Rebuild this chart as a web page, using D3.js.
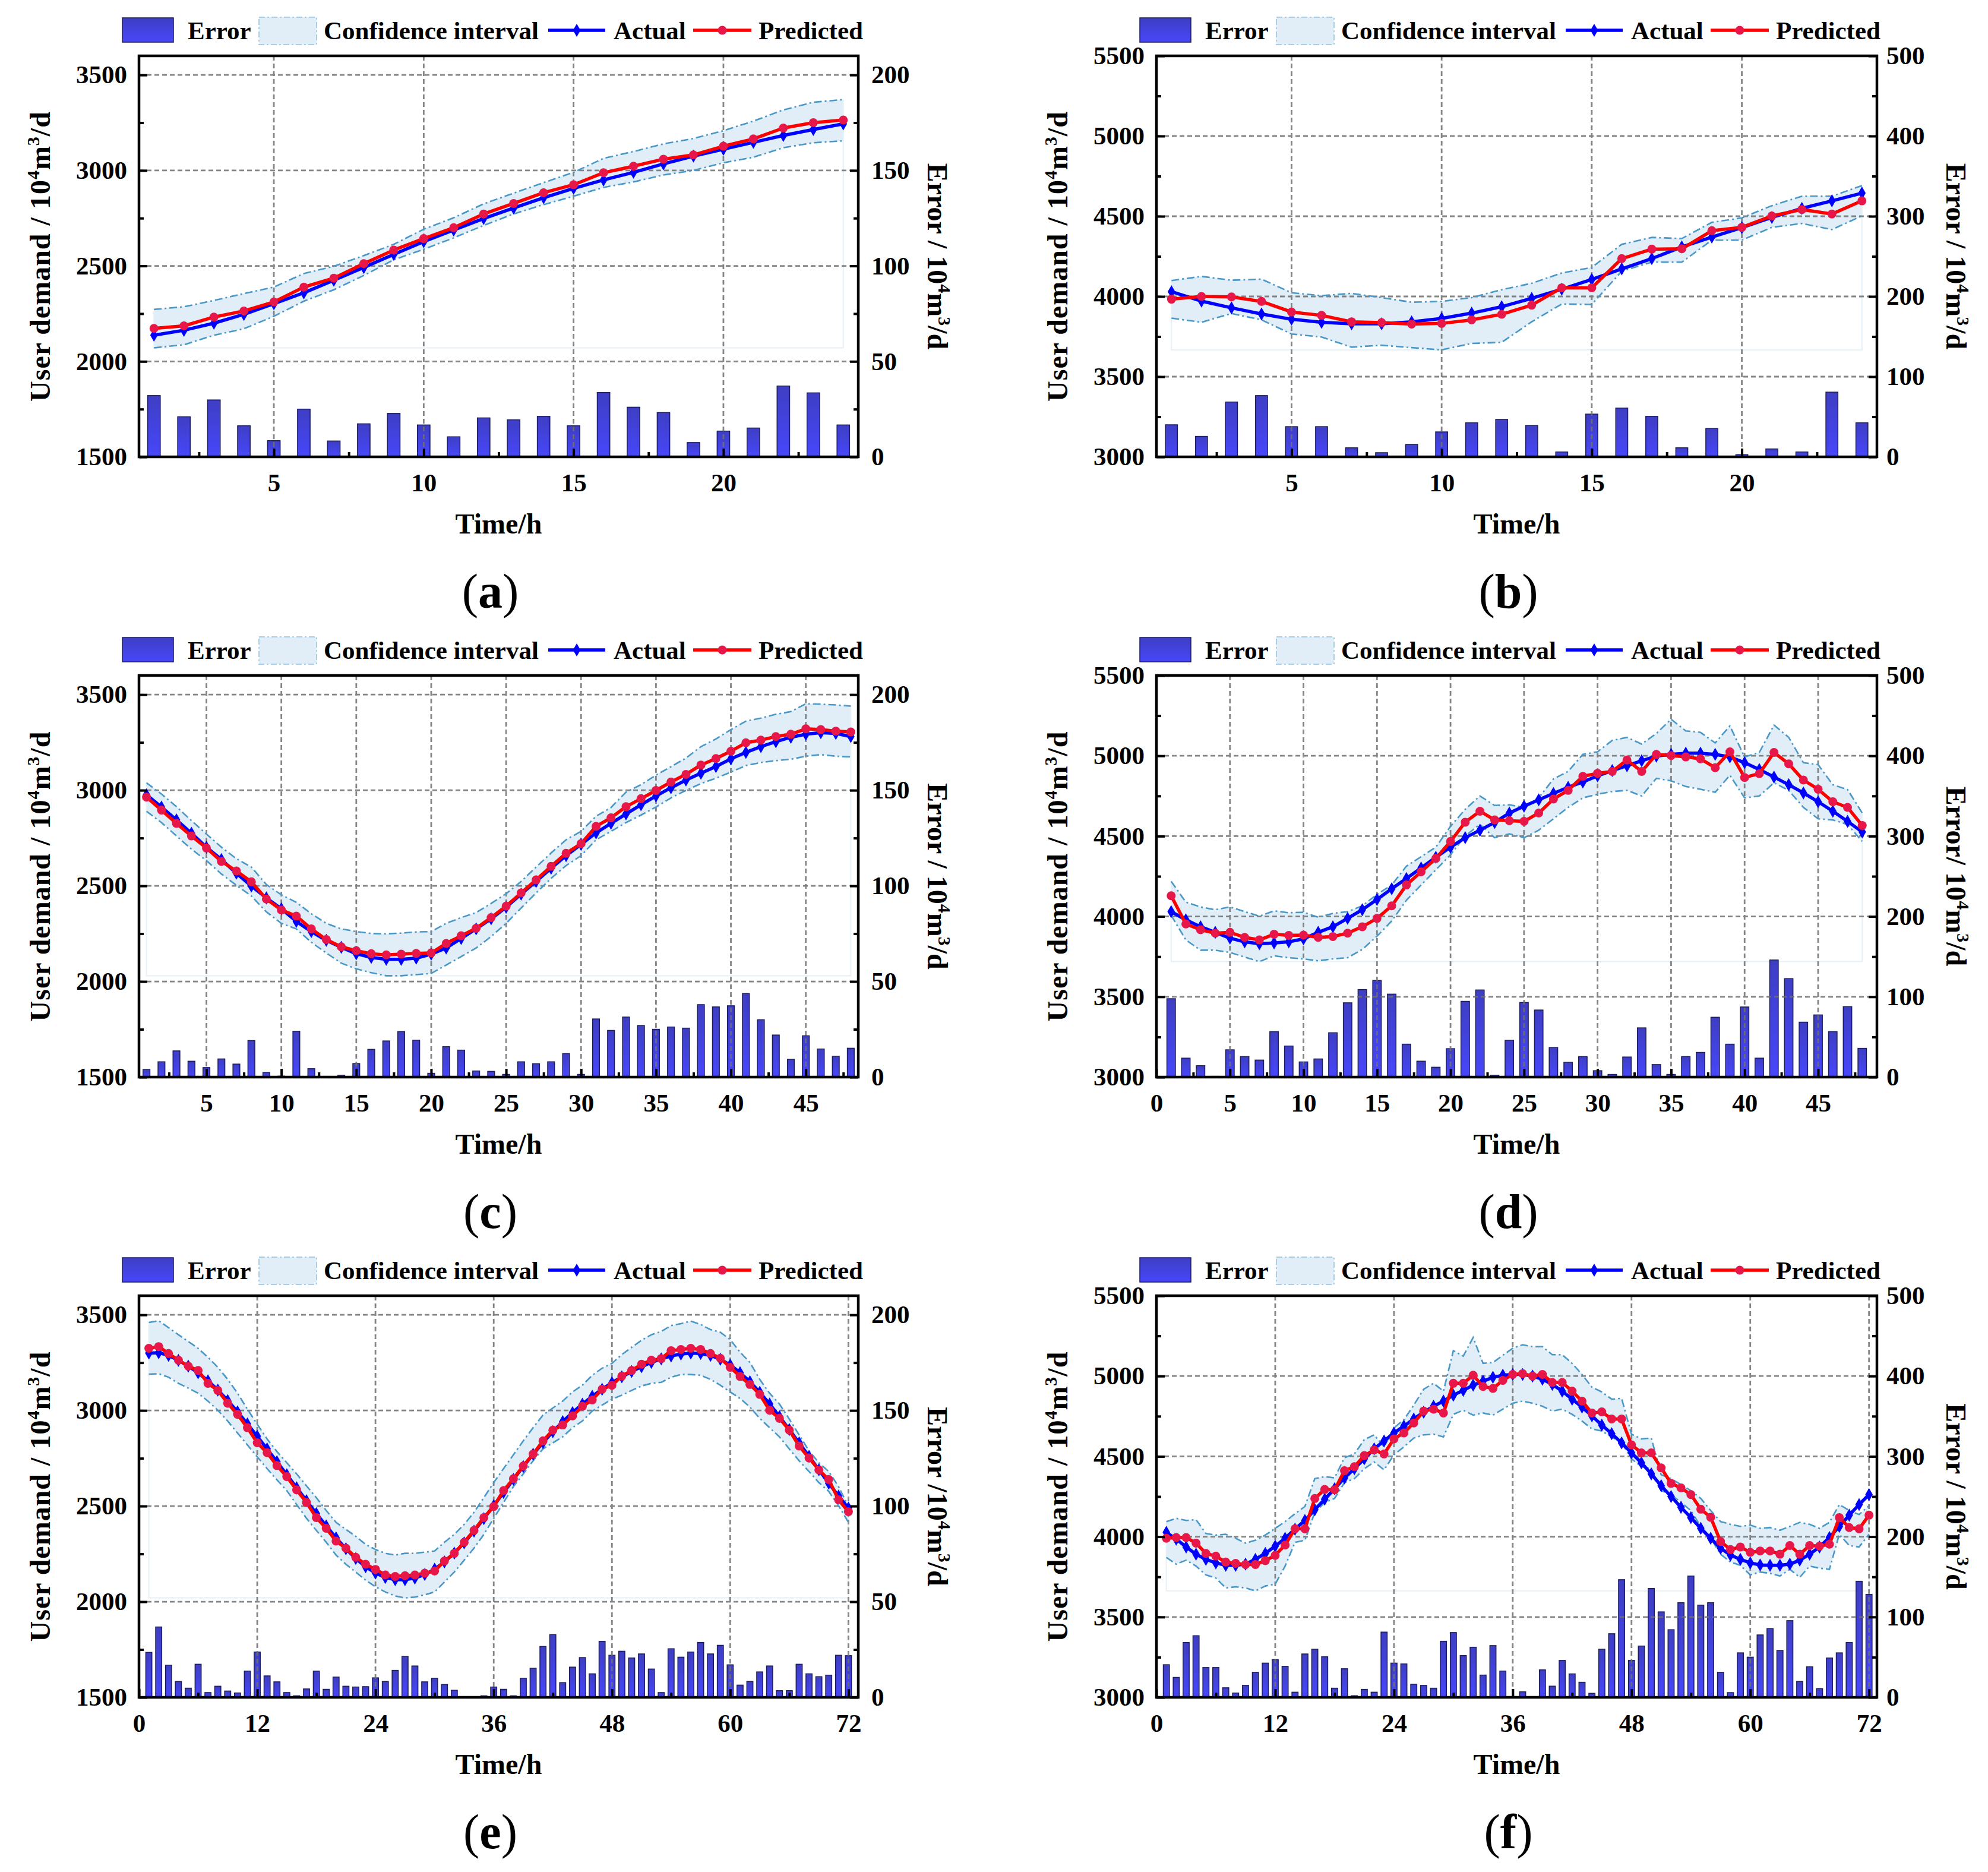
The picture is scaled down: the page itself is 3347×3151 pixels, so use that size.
<!DOCTYPE html>
<html>
<head>
<meta charset="utf-8">
<script src="https://cdn.jsdelivr.net/npm/d3@7"></script>
<style>
body{margin:0;background:#fff}
svg{display:block}
</style>
</head>
<body>
<svg id="chart" width="3347" height="3151"></svg>
<script>
// ---- time axes (hour index) ----
const hours24 = [1,2,3,4,5,6,7,8,9,10,11,12,13,14,15,16,17,18,19,20,21,22,23,24];
const hours48 = [1,2,3,4,5,6,7,8,9,10,11,12,13,14,15,16,17,18,19,20,21,22,23,24,
                 25,26,27,28,29,30,31,32,33,34,35,36,37,38,39,40,41,42,43,44,45,46,47,48];
const hours72 = [1,2,3,4,5,6,7,8,9,10,11,12,13,14,15,16,17,18,19,20,21,22,23,24,
                 25,26,27,28,29,30,31,32,33,34,35,36,37,38,39,40,41,42,43,44,45,46,47,48,
                 49,50,51,52,53,54,55,56,57,58,59,60,61,62,63,64,65,66,67,68,69,70,71,72];

// ---- tick labels ----
const xTicks24 = [5,10,15,20];
const xTicks48 = [5,10,15,20,25,30,35,40,45];
const xTicks48z = [0,5,10,15,20,25,30,35,40,45];
const xTicks72 = [0,12,24,36,48,60,72];
const yTicksLow = [1500,2000,2500,3000,3500];
const yTicksHigh = [3000,3500,4000,4500,5000,5500];
const eTicksLow = [0,50,100,150,200];
const eTicksHigh = [0,100,200,300,400,500];

// ---- (a) 24 h ----
const aActual = [2137,2163,2200,2246,2302,2359,2425,2492,2560,2627,2688,2748,2803,2857,2906,2950,2990,3034,3075,3111,3147,3183,3214,3244];
const aPredicted = [2173,2186,2232,2264,2311,2389,2436,2512,2583,2643,2700,2772,2827,2883,2925,2988,3022,3059,3081,3127,3165,3222,3250,3264];
const aUpper = [2272,2286,2319,2355,2389,2460,2498,2554,2613,2692,2752,2825,2881,2936,2990,3063,3099,3139,3167,3208,3258,3317,3357,3371];
const aLower = [2071,2087,2137,2171,2236,2315,2375,2450,2532,2587,2647,2712,2772,2821,2865,2911,2940,2976,3000,3040,3069,3119,3145,3155];
const aError = [32.1,21,29.8,16.3,8.5,25,8.3,17.3,22.8,16.7,10.5,20.4,19.4,21.2,16.3,33.7,26,23.2,7.5,13.5,15.1,37.1,33.5,16.7];

// ---- (b) 24 h ----
const bActual = [4030,3971,3929,3891,3858,3839,3830,3830,3842,3863,3896,3936,3988,4045,4106,4172,4236,4309,4370,4429,4493,4549,4596,4644];
const bPredicted = [3983,4000,3997,3969,3903,3882,3842,3837,3828,3832,3854,3889,3946,4054,4054,4236,4295,4297,4410,4431,4502,4542,4514,4596];
const bUpper = [4099,4125,4101,4108,4023,4005,4019,3993,3964,3969,3993,4042,4082,4146,4181,4325,4368,4361,4462,4490,4566,4625,4625,4691];
const bLower = [3865,3839,3894,3854,3766,3747,3684,3696,3681,3667,3707,3714,3842,3953,3950,4158,4214,4214,4351,4351,4431,4455,4417,4502];
const bError = [40,25.5,68.4,76.4,37.7,37.7,11.3,5.2,15.6,31.1,42.5,46.7,39.2,6.1,53.3,60.8,50.5,11.3,35.4,2.8,9.9,6.1,80.7,42.5];

// ---- (c) 48 h ----
const cActual = [2976,2912,2845,2775,2702,2638,2566,2499,2437,2380,2314,2261,2215,2179,2145,2126,2116,2116,2122,2143,
                 2175,2225,2275,2328,2388,2457,2523,2592,2658,2717,2777,2827,2876,2924,2970,3013,3053,3089,3124,3164,
                 3198,3228,3254,3277,3293,3301,3297,3281];
const cPredicted = [2964,2896,2827,2761,2698,2628,2578,2521,2431,2374,2342,2275,2219,2181,2161,2145,2139,2143,2147,2149,
                    2199,2239,2278,2334,2394,2463,2531,2602,2670,2721,2811,2856,2914,2956,2999,3043,3083,3132,3166,3204,
                    3248,3262,3281,3293,3321,3317,3309,3305];
const cUpper = [3039,2980,2914,2841,2771,2702,2642,2598,2507,2453,2414,2354,2304,2275,2261,2251,2249,2253,2259,2261,
                2304,2334,2360,2408,2459,2523,2598,2672,2741,2785,2864,2910,2990,3029,3079,3123,3168,3228,3268,3317,
                3361,3377,3397,3411,3452,3450,3446,3440];
const cLower = [2890,2831,2761,2692,2632,2562,2503,2447,2364,2304,2275,2205,2149,2096,2066,2046,2030,2030,2036,2042,
                2086,2130,2175,2235,2304,2384,2463,2539,2606,2658,2741,2785,2831,2870,2912,2960,2999,3035,3063,3095,
                3129,3145,3155,3162,3178,3186,3178,3174];
const cError = [4,8,13.7,8.3,5,9.5,6.8,19.1,2.4,0.5,24,4.4,0.4,1,7.1,14.5,18.9,23.8,19.3,2,
                15.9,14.1,3.2,3,1.4,8,7,8,12.3,1.4,30.4,24.4,31.4,27,25,26.2,25.6,37.9,36.7,37.3,
                43.7,30,22,9.3,21.6,14.7,10.9,15.1];

// ---- (d) 48 h ----
const dActual = [4030,3979,3936,3901,3865,3842,3830,3835,3842,3861,3901,3936,3988,4042,4106,4172,4236,4302,4368,4431,
                 4490,4537,4585,4644,4686,4726,4766,4804,4837,4875,4908,4938,4969,4998,5009,5016,5016,5009,4993,4957,
                 4915,4868,4820,4769,4714,4655,4592,4526];
const dPredicted = [4129,3953,3917,3896,3901,3870,3854,3889,3882,3884,3870,3875,3896,3936,3988,4066,4196,4278,4361,4467,
                    4587,4655,4601,4596,4592,4644,4731,4785,4872,4891,4903,4974,4903,5009,5002,4993,4981,4926,5025,4865,
                    4889,5021,4950,4849,4792,4714,4679,4566];
const dUpper = [4219,4089,4059,4042,4059,4030,4002,4035,4023,4026,3995,4019,4030,4066,4137,4196,4313,4372,4431,4561,
                4667,4750,4691,4695,4679,4738,4856,4903,5009,5025,5096,5115,5073,5139,5228,5155,5146,5080,5186,4993,
                5021,5191,5115,4957,4945,4820,4790,4644];
const dLower = [4007,3854,3790,3790,3776,3747,3719,3755,3743,3736,3724,3736,3743,3795,3877,3972,4101,4196,4290,4384,
                4502,4573,4490,4514,4490,4537,4608,4679,4738,4761,4778,4785,4750,4860,4844,4809,4792,4773,4879,4738,
                4750,4832,4785,4679,4608,4601,4573,4467];
const dError = [97.6,23.6,14.2,1,34,25.5,21.2,56.6,38.7,18.9,22.6,55.2,92.5,109,120.3,103.3,41,19.8,12.3,35.4,
                94.3,108.5,2.4,45.8,92.9,83.5,36.8,18.4,25.5,8,3.3,25,61.3,15.6,3.3,25.5,30.7,74.5,41,87.3,
                23.6,145.8,122.6,68.4,77.4,56.6,87.7,35.8];

// ---- (e) 72 h ----
const eActual = [3300,3302,3288,3262,3232,3197,3155,3107,3052,2993,2930,2865,2799,2732,2664,2596,2528,2461,2396,2334,
                 2277,2226,2183,2150,2127,2115,2115,2124,2142,2170,2208,2254,2308,2369,2434,2502,2571,2640,2707,2771,
                 2832,2889,2941,2989,3033,3074,3111,3145,3176,3204,3229,3251,3270,3285,3295,3300,3298,3288,3268,3238,
                 3198,3150,3095,3034,2968,2900,2830,2760,2690,2620,2552,2490];
const ePredicted = [3325,3334,3298,3263,3232,3209,3142,3105,3038,2980,2910,2831,2779,2712,2654,2585,2519,2440,2384,2317,
                    2280,2232,2196,2169,2140,2132,2136,2140,2149,2161,2213,2253,2311,2373,2440,2498,2581,2643,2710,2772,
                    2841,2897,2924,2972,3022,3055,3111,3132,3180,3209,3242,3263,3271,3313,3319,3325,3319,3298,3273,3226,
                    3178,3136,3084,3001,2959,2897,2814,2752,2689,2639,2533,2471];
const eUpper = [3460,3469,3433,3396,3361,3325,3278,3226,3163,3090,3007,2928,2851,2785,2727,2668,2606,2544,2477,2415,
                2378,2342,2300,2273,2253,2244,2253,2253,2259,2265,2311,2352,2404,2467,2544,2623,2696,2768,2841,2910,
                2976,3013,3049,3097,3132,3184,3221,3246,3292,3330,3367,3396,3413,3444,3454,3467,3450,3423,3409,3371,
                3305,3251,3163,3090,3034,2955,2872,2789,2727,2681,2602,2498];
const eLower = [3190,3192,3174,3142,3117,3090,3049,3001,2945,2882,2820,2758,2696,2637,2581,2508,2436,2373,2311,2244,
                2196,2155,2113,2078,2051,2030,2020,2024,2036,2051,2103,2155,2217,2280,2352,2436,2519,2602,2668,2737,
                2799,2831,2862,2910,2945,2997,3028,3059,3080,3105,3128,3142,3147,3174,3188,3188,3184,3163,3132,3097,
                3063,3018,2959,2910,2862,2799,2737,2681,2623,2577,2502,2415];
const eError = [23.5,36.8,16.8,8.3,4.8,17.3,2.5,5.8,3.3,2.3,13.7,23.7,11.2,8.1,2.5,0.8,4.4,13.7,4.2,10.6,
                5.8,5.4,5.6,10.2,8.3,14.1,21.4,16.4,8.1,10,6.7,3.7,0.3,0.2,0.8,5.4,4.2,0.8,10,15.2,
                26.6,32.8,7.7,15.8,20.8,12.3,29.3,22,24.1,20.6,22.7,14.8,2.5,25.4,21,23.7,28.7,22.7,27.2,17,
                6.4,8.3,13.3,16.4,3.5,3.5,17.3,12.3,10.8,11.6,22,21.8];

// ---- (f) 72 h ----
const fActual = [4027,3985,3936,3891,3859,3837,3822,3822,3829,3859,3896,3941,3990,4047,4101,4168,4233,4299,4366,4423,
                 4485,4547,4596,4646,4688,4733,4775,4812,4844,4881,4911,4943,4968,4992,5005,5010,5010,5000,4980,4948,
                 4906,4856,4807,4752,4695,4641,4584,4522,4460,4391,4317,4250,4183,4119,4052,3990,3928,3886,3859,3837,
                 3824,3822,3822,3829,3854,3891,3936,3995,4064,4134,4200,4262];
const fPredicted = [3990,3995,3995,3960,3896,3879,3842,3834,3827,3827,3851,3884,3948,4049,4049,4238,4294,4292,4411,4436,
                    4505,4540,4515,4609,4646,4708,4782,4794,4770,4955,4955,5005,4935,4923,4973,5010,5015,5000,5010,4960,
                    4960,4906,4844,4770,4777,4733,4733,4572,4522,4522,4428,4332,4304,4262,4171,4121,3970,3920,3936,3903,
                    3911,3911,3891,3945,3891,3945,3941,3953,4119,4057,4049,4134];
const fUpper = [4094,4114,4101,4106,4020,4010,4015,3990,3960,3978,4010,4052,4094,4143,4188,4361,4374,4366,4492,4515,
                4604,4634,4559,4678,4728,4819,4918,4955,4906,5158,5124,5240,5079,5084,5129,5173,5195,5183,5183,5133,
                5133,5079,5010,4931,4901,4856,4861,4638,4609,4614,4386,4361,4324,4287,4238,4163,4094,4077,4064,4072,
                4052,4057,4040,4064,4089,4077,4052,4089,4200,4163,4138,4193];
const fLower = [3871,3829,3854,3817,3762,3743,3681,3688,3681,3663,3693,3705,3817,3965,3978,4151,4213,4238,4337,4361,
                4423,4465,4416,4510,4559,4614,4634,4638,4621,4762,4787,4757,4770,4757,4794,4831,4844,4831,4812,4782,
                4794,4762,4720,4671,4658,4621,4584,4485,4436,4423,4287,4262,4213,4163,4064,3990,3891,3842,3822,3762,
                3780,3772,3755,3797,3747,3817,3804,3797,4015,3945,3936,4015];
const fError = [40.6,24.8,68.3,76.7,37.1,37.1,11.9,5.4,14.9,31.2,42.6,47,38.6,6.4,54,59.9,50.5,11.4,35.6,2,
                9.9,6.4,81.2,42.6,41.6,16.3,14.9,11.4,69.8,80.7,52,62.4,27.7,64.4,32.7,1,6.9,0.5,34.2,13.9,
                46,29.2,18.8,5,59.9,79.2,146.5,46,63.9,135.6,106.4,84.2,117.8,151,114.8,117.8,31.2,5.9,55.4,50,
                77.7,85.6,58.4,95.5,19.8,38.1,10.9,49,55.4,68.3,144.5,128.2];

// ---- layout ----
const FONT = '"Liberation Serif", "Times New Roman", serif';
const COL_L = {L: 234, R: 1445};
const COL_R = {L: 1947, R: 3160};
const ROWS = [{T: 94, B: 769}, {T: 1137, B: 1813}, {T: 2181, B: 2857}];

const panels = [
  {label:'a', box:{...COL_L, ...ROWS[0]}, hours:hours24, act:aActual, pre:aPredicted, up:aUpper, lo:aLower, err:aError,
   xDom:[0.5,24.5], xTicks:xTicks24, xMinor:[2.5,7.5,12.5,17.5,22.5],
   yDom:[1500,3600], yTicks:yTicksLow, yMinor:[1750,2250,2750,3250],
   eDom:[0,210], eTicks:eTicksLow, eMinor:[25,75,125,175], barFrac:0.42, errTitle:'Error / 10', rPad:22},
  {label:'b', box:{...COL_R, ...ROWS[0]}, hours:hours24, act:bActual, pre:bPredicted, up:bUpper, lo:bLower, err:bError,
   xDom:[0.5,24.5], xTicks:xTicks24, xMinor:[2.5,7.5,12.5,17.5,22.5],
   yDom:[3000,5500], yTicks:yTicksHigh, yMinor:[3250,3750,4250,4750,5250],
   eDom:[0,500], eTicks:eTicksHigh, eMinor:[50,150,250,350,450], barFrac:0.40, errTitle:'Error / 10', rPad:16},
  {label:'c', box:{...COL_L, ...ROWS[1]}, hours:hours48, act:cActual, pre:cPredicted, up:cUpper, lo:cLower, err:cError,
   xDom:[0.5,48.5], xTicks:xTicks48, xMinor:[2.5,7.5,12.5,17.5,22.5,27.5,32.5,37.5,42.5,47.5],
   yDom:[1500,3600], yTicks:yTicksLow, yMinor:[1750,2250,2750,3250],
   eDom:[0,210], eTicks:eTicksLow, eMinor:[25,75,125,175], barFrac:0.46, errTitle:'Error / 10', rPad:22},
  {label:'d', box:{...COL_R, ...ROWS[1]}, hours:hours48, act:dActual, pre:dPredicted, up:dUpper, lo:dLower, err:dError,
   xDom:[0,49], xTicks:xTicks48z, xMinor:[2.5,7.5,12.5,17.5,22.5,27.5,32.5,37.5,42.5,47.5],
   yDom:[3000,5500], yTicks:yTicksHigh, yMinor:[3250,3750,4250,4750,5250],
   eDom:[0,500], eTicks:eTicksHigh, eMinor:[50,150,250,350,450], barFrac:0.58, errTitle:'Error/ 10', rPad:16},
  {label:'e', box:{...COL_L, ...ROWS[2]}, hours:hours72, act:eActual, pre:ePredicted, up:eUpper, lo:eLower, err:eError,
   xDom:[0,73], xTicks:xTicks72, xMinor:[6,18,30,42,54,66],
   yDom:[1500,3600], yTicks:yTicksLow, yMinor:[1750,2250,2750,3250],
   eDom:[0,210], eTicks:eTicksLow, eMinor:[25,75,125,175], barFrac:0.62, errTitle:'Error /10', rPad:22},
  {label:'f', box:{...COL_R, ...ROWS[2]}, hours:hours72, act:fActual, pre:fPredicted, up:fUpper, lo:fLower, err:fError,
   xDom:[0,72.8], xTicks:xTicks72, xMinor:[6,18,30,42,54,66],
   yDom:[3000,5500], yTicks:yTicksHigh, yMinor:[3250,3750,4250,4750,5250],
   eDom:[0,500], eTicks:eTicksHigh, eMinor:[50,150,250,350,450], barFrac:0.62, errTitle:'Error / 10', rPad:16}
];

const svg = d3.select('#chart');
svg.append('rect').attr('width', 3347).attr('height', 3151).attr('fill', '#fff');

const defs = svg.append('defs');
const grad = defs.append('linearGradient').attr('id', 'barFill')
  .attr('x1', 0).attr('y1', 0).attr('x2', 0).attr('y2', 1);
grad.append('stop').attr('offset', '0%').attr('stop-color', '#3e3ec4');
grad.append('stop').attr('offset', '100%').attr('stop-color', '#4747fb');

const BAND_FILL = '#e1eef7';
const BAND_EDGE = '#4a98c8';
const diamond = d3.symbol(d3.symbolDiamond, 140);
const DOT_R = 7.5;

function styleAxis(sel) {
  sel.select('.domain').remove();
  sel.attr('font-family', FONT).attr('font-size', 43).attr('font-weight', 'bold');
  sel.selectAll('line').attr('stroke', '#000').attr('stroke-width', 4);
  sel.selectAll('text').attr('fill', '#000');
}

function addUnits(text, head) {
  text.append('tspan').text(head);
  text.append('tspan').attr('font-size', 30).attr('dy', -18).text('4');
  text.append('tspan').attr('dy', 18).text('m');
  text.append('tspan').attr('font-size', 30).attr('dy', -18).text('3');
  text.append('tspan').attr('dy', 18).text('/d');
}

function drawPanel(p) {
  const {L, R, T, B} = p.box;
  const x = d3.scaleLinear().domain(p.xDom).range([L, R]);
  const y = d3.scaleLinear().domain(p.yDom).range([B, T]);
  const yE = d3.scaleLinear().domain(p.eDom).range([B, T]);
  const rows = p.hours.map((h, i) => ({h, act: p.act[i], pre: p.pre[i], up: p.up[i], lo: p.lo[i], err: p.err[i]}));
  const g = svg.append('g');

  // confidence band
  g.append('path').datum(rows)
    .attr('d', d3.area().x(d => x(d.h)).y0(d => y(d.lo)).y1(d => y(d.up)))
    .attr('fill', BAND_FILL);
  const first = rows[0], last = rows[rows.length - 1];
  const minLo = d3.min(rows, d => d.lo);
  g.append('path')
    .attr('d', d3.line()([[x(first.h), y(first.up)], [x(first.h), y(minLo)], [x(last.h), y(minLo)], [x(last.h), y(last.up)]]))
    .attr('fill', 'none').attr('stroke', '#e6f0f7').attr('stroke-width', 2);

  // error bars
  const bw = (x(p.hours[1]) - x(p.hours[0])) * p.barFrac;
  g.selectAll('rect.bar').data(rows).join('rect')
    .attr('class', 'bar')
    .attr('x', d => x(d.h) - bw / 2)
    .attr('y', d => yE(d.err))
    .attr('width', bw)
    .attr('height', d => B - yE(d.err))
    .attr('fill', 'url(#barFill)')
    .attr('stroke', '#1d1d5c').attr('stroke-width', 1.5);

  // grid
  const grid = g.append('g').attr('stroke', '#707070').attr('stroke-width', 2.8)
    .attr('stroke-dasharray', '8,5').attr('opacity', 0.85);
  grid.selectAll('line.vx').data(p.xTicks.filter(v => v > p.xDom[0] && v < p.xDom[1])).join('line')
    .attr('x1', d => x(d)).attr('x2', d => x(d)).attr('y1', T).attr('y2', B);
  grid.selectAll('line.hy').data(p.yTicks.filter(v => v > p.yDom[0] && v < p.yDom[1])).join('line')
    .attr('x1', L).attr('x2', R).attr('y1', d => y(d)).attr('y2', d => y(d));

  // band edges
  ['up', 'lo'].forEach(k => {
    g.append('path').datum(rows)
      .attr('d', d3.line().x(d => x(d.h)).y(d => y(d[k])))
      .attr('fill', 'none').attr('stroke', BAND_EDGE).attr('stroke-width', 2.6)
      .attr('stroke-dasharray', '13,5,3,5');
  });

  // actual
  g.append('path').datum(rows)
    .attr('d', d3.line().x(d => x(d.h)).y(d => y(d.act)))
    .attr('fill', 'none').attr('stroke', '#0000ff').attr('stroke-width', 5.5).attr('stroke-linejoin', 'round');
  g.selectAll('path.dia').data(rows).join('path')
    .attr('class', 'dia')
    .attr('transform', d => `translate(${x(d.h)},${y(d.act)})`)
    .attr('d', diamond).attr('fill', '#0000ff');

  // predicted
  g.append('path').datum(rows)
    .attr('d', d3.line().x(d => x(d.h)).y(d => y(d.pre)))
    .attr('fill', 'none').attr('stroke', '#ff0000').attr('stroke-width', 5.5).attr('stroke-linejoin', 'round');
  g.selectAll('circle.pt').data(rows).join('circle')
    .attr('class', 'pt')
    .attr('cx', d => x(d.h)).attr('cy', d => y(d.pre)).attr('r', DOT_R)
    .attr('fill', '#e8174a');

  // frame
  g.append('rect').attr('x', L).attr('y', T).attr('width', R - L).attr('height', B - T)
    .attr('fill', 'none').attr('stroke', '#000').attr('stroke-width', 4.5);

  // axes
  const fmt = d3.format('d');
  g.append('g').attr('transform', `translate(${L},0)`)
    .call(d3.axisLeft(y).tickValues(p.yTicks).tickSize(-14).tickPadding(20).tickFormat(fmt)).call(styleAxis);
  g.append('g').attr('transform', `translate(${L},0)`)
    .call(d3.axisLeft(y).tickValues(p.yMinor).tickSize(-8).tickFormat('')).call(styleAxis);
  g.append('g').attr('transform', `translate(${R},0)`)
    .call(d3.axisRight(yE).tickValues(p.eTicks).tickSize(-14).tickPadding(p.rPad).tickFormat(fmt)).call(styleAxis);
  g.append('g').attr('transform', `translate(${R},0)`)
    .call(d3.axisRight(yE).tickValues(p.eMinor).tickSize(-8).tickFormat('')).call(styleAxis);
  g.append('g').attr('transform', `translate(0,${B})`)
    .call(d3.axisBottom(x).tickValues(p.xTicks).tickSize(-14).tickPadding(27).tickFormat(fmt)).call(styleAxis);
  g.append('g').attr('transform', `translate(0,${B})`)
    .call(d3.axisBottom(x).tickValues(p.xMinor).tickSize(-8).tickFormat('')).call(styleAxis);

  // axis titles
  const midY = (T + B) / 2;
  const yl = g.append('text')
    .attr('transform', `translate(${L - 150},${midY}) rotate(-90)`)
    .attr('text-anchor', 'middle').attr('font-family', FONT).attr('font-weight', 'bold')
    .attr('font-size', 48).attr('letter-spacing', 1);
  addUnits(yl, 'User demand / 10');

  const el = g.append('text')
    .attr('transform', `translate(${R + 117},${midY}) rotate(90)`)
    .attr('text-anchor', 'middle').attr('font-family', FONT).attr('font-weight', 'bold')
    .attr('font-size', 48);
  addUnits(el, p.errTitle);

  g.append('text').attr('x', (L + R) / 2).attr('y', B + 129)
    .attr('text-anchor', 'middle').attr('font-family', FONT).attr('font-weight', 'bold')
    .attr('font-size', 48).text('Time/h');

  // panel label: regular parentheses, bold letter
  const pl = g.append('text').attr('x', (L + R) / 2 - 14).attr('y', B + 254)
    .attr('text-anchor', 'middle').attr('font-family', FONT).attr('font-size', 82);
  pl.append('tspan').text('(');
  pl.append('tspan').attr('font-weight', 'bold').text(p.label);
  pl.append('tspan').text(')');

  // legend
  const cy = T - 43;
  const lg = g.append('g').attr('font-family', FONT).attr('font-weight', 'bold').attr('font-size', 43);
  lg.append('rect').attr('x', L - 28).attr('y', cy - 21).attr('width', 86).attr('height', 41)
    .attr('fill', 'url(#barFill)').attr('stroke', '#1d1d5c').attr('stroke-width', 1.5);
  lg.append('text').attr('x', L + 82).attr('y', cy + 15).text('Error');
  lg.append('rect').attr('x', L + 202).attr('y', cy - 22).attr('width', 97).attr('height', 46)
    .attr('fill', BAND_FILL).attr('stroke', '#a9cfe6').attr('stroke-width', 2).attr('stroke-dasharray', '10,4,3,4');
  lg.append('text').attr('x', L + 311).attr('y', cy + 15).text('Confidence interval');
  lg.append('line').attr('x1', L + 689).attr('x2', L + 785).attr('y1', cy).attr('y2', cy)
    .attr('stroke', '#0000ff').attr('stroke-width', 5.5);
  lg.append('path').attr('transform', `translate(${L + 737},${cy})`).attr('d', diamond).attr('fill', '#0000ff');
  lg.append('text').attr('x', L + 799).attr('y', cy + 15).text('Actual');
  lg.append('line').attr('x1', L + 933).attr('x2', L + 1031).attr('y1', cy).attr('y2', cy)
    .attr('stroke', '#ff0000').attr('stroke-width', 5.5);
  lg.append('circle').attr('cx', L + 982).attr('cy', cy).attr('r', DOT_R).attr('fill', '#e8174a');
  lg.append('text').attr('x', L + 1043).attr('y', cy + 15).text('Predicted');
}

panels.forEach(drawPanel);
</script>
</body>
</html>
